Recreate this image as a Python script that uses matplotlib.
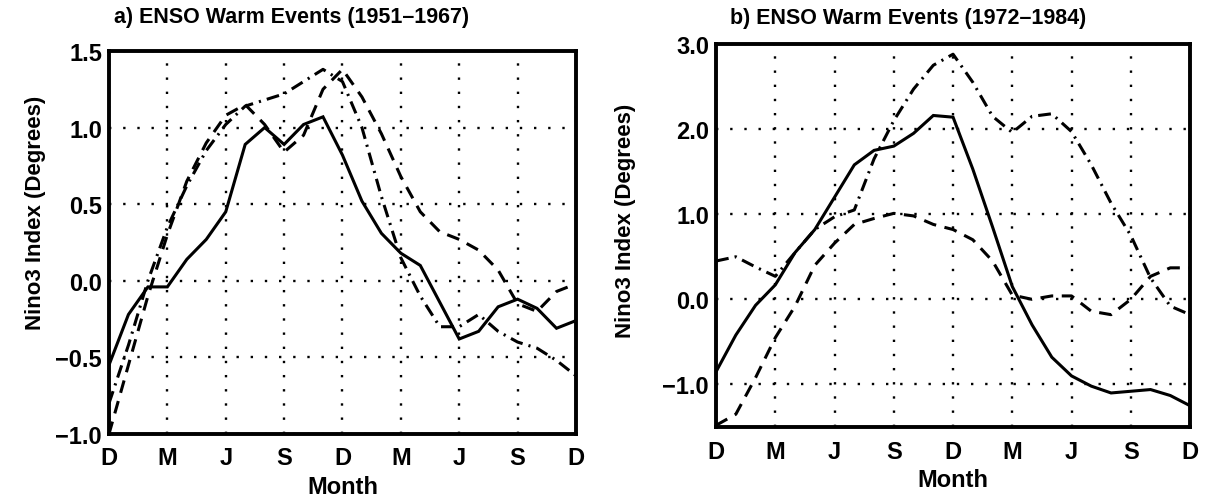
import matplotlib
matplotlib.use("Agg")
import matplotlib.pyplot as plt

plt.rcParams['font.family'] = ['Liberation Sans', 'DejaVu Sans']
plt.rcParams['font.weight'] = 'bold'

# month index 0..24, Dec to Dec (two years)
months = list(range(25))
tick_pos = [0, 3, 6, 9, 12, 15, 18, 21, 24]
tick_lab = ['D', 'M', 'J', 'S', 'D', 'M', 'J', 'S', 'D']

# ---- panel a) 1951-1967 ----
a_solid = [-0.55, -0.22, -0.04, -0.04, 0.14, 0.27, 0.45, 0.89, 1.0, 0.89,
           1.02, 1.07, 0.82, 0.52, 0.31, 0.18, 0.10, -0.14, -0.38, -0.33,
           -0.17, -0.12, -0.18, -0.31, -0.26]
a_dash = [-1.0, -0.55, -0.1, 0.3, 0.65, 0.9, 1.08, 1.15, 1.02, 0.84,
          0.95, 1.25, 1.38, 1.2, 0.96, 0.68, 0.45, 0.32, 0.27, 0.2,
          0.07, -0.15, -0.2, -0.07, -0.02]
a_dashdot = [-0.8, -0.42, 0.0, 0.35, 0.62, 0.85, 1.02, 1.14, 1.18, 1.22,
             1.3, 1.38, 1.3, 1.0, 0.55, 0.15, -0.1, -0.3, -0.3, -0.22,
             -0.33, -0.4, -0.44, -0.52, -0.62]
a_yticks = [-1.0, -0.5, 0.0, 0.5, 1.0, 1.5]

# ---- panel b) 1972-1984 ----
b_solid = [-0.85, -0.42, -0.07, 0.17, 0.55, 0.82, 1.2, 1.58, 1.75, 1.8,
           1.95, 2.16, 2.14, 1.53, 0.85, 0.15, -0.3, -0.68, -0.9, -1.02,
           -1.1, -1.08, -1.06, -1.13, -1.25]
b_dash = [-1.48, -1.35, -0.92, -0.45, -0.08, 0.4, 0.66, 0.88, 0.95, 1.01,
          0.98, 0.88, 0.82, 0.7, 0.45, 0.05, 0.0, 0.04, 0.04, -0.14,
          -0.18, 0.0, 0.27, 0.37, 0.37]
b_dashdot = [0.45, 0.5, 0.38, 0.27, 0.55, 0.82, 0.97, 1.05, 1.65, 2.1,
             2.47, 2.75, 2.88, 2.55, 2.15, 1.96, 2.15, 2.18, 1.97, 1.58,
             1.13, 0.75, 0.25, -0.08, -0.18]
b_yticks = [-1.0, 0.0, 1.0, 2.0, 3.0]

fig = plt.figure(figsize=(12.11, 5.02), dpi=100)
ax_a = fig.add_axes([0.090, 0.1335, 0.3856, 0.763])
ax_b = fig.add_axes([0.5913, 0.1474, 0.3914, 0.763])


def draw_panel(ax, solid, dash, dashdot, yticks, ylim, title, title_x, title_y):
    lw = 2.2
    ax.plot(months, solid, color='black', lw=lw, solid_joinstyle='miter')
    ax.plot(months, dash, color='black', lw=lw, linestyle=(0, (4.2, 2.8)))
    ax.plot(months, dashdot, color='black', lw=lw, linestyle=(0, (4.2, 2.0, 0.7, 2.0)))

    ax.set_xlim(0, 24)
    ax.set_ylim(*ylim)
    ax.set_xticks(tick_pos)
    ax.set_xticklabels(tick_lab)
    ax.set_yticks(yticks)
    ax.set_yticklabels([('%.1f' % v).replace('-', '\u2212') for v in yticks])
    ax.tick_params(length=0, labelsize=17, pad=5)
    ax.tick_params(axis='x', pad=9)
    ax.grid(True, color='black', linestyle=(0, (1, 5)), linewidth=1.7)
    for sp in ax.spines.values():
        sp.set_linewidth(2.8)

    ax.set_xlabel('Month', fontsize=17, fontweight='bold')
    ax.xaxis.label.set_va('center')
    ax.xaxis.set_label_coords(0.5, -0.137)
    ax.set_ylabel('Nino3 Index (Degrees)', fontsize=16, fontweight='bold')
    ax.yaxis.label.set_va('center')
    ax.text(title_x, title_y, title, transform=ax.transAxes, ha='center',
            va='center', fontsize=15.5, fontweight='bold')
    return ax


draw_panel(ax_a, a_solid, a_dash, a_dashdot, a_yticks, (-1.0, 1.5),
           'a) ENSO Warm Events (1951\u20131967)', 0.39, 1.09)
ax_a.yaxis.set_label_coords(-0.158, 0.58)

draw_panel(ax_b, b_solid, b_dash, b_dashdot, b_yticks, (-1.5, 3.0),
           'b) ENSO Warm Events (1972\u20131984)', 0.405, 1.07)
ax_b.yaxis.set_label_coords(-0.192, 0.54)

fig.savefig('out.png', dpi=100)
